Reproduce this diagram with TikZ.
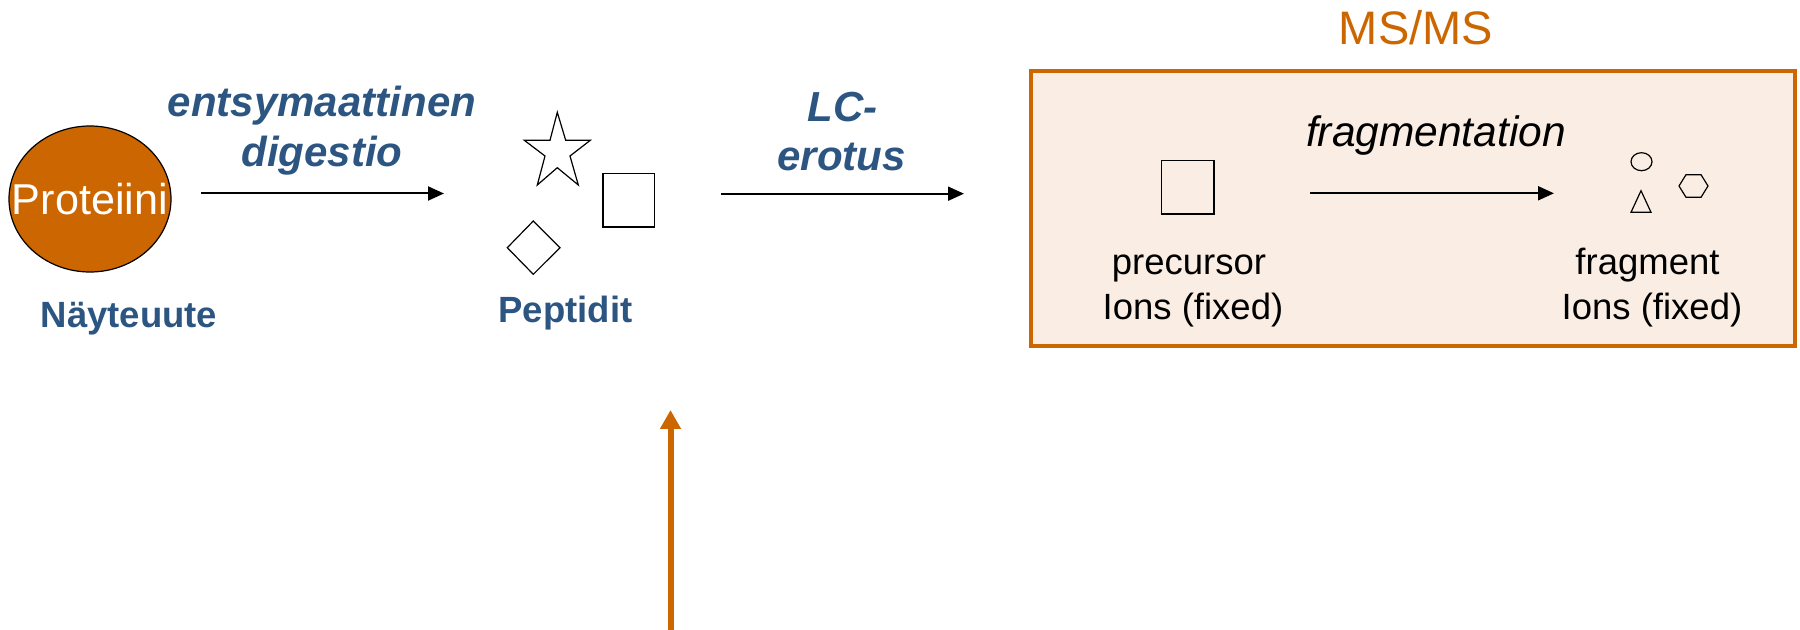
\documentclass[tikz,border=0pt]{standalone}
\usepackage{fontspec}
\setmainfont{Liberation Sans}
\usetikzlibrary{arrows.meta,shapes.geometric}
\definecolor{rust}{HTML}{CC6600}
\definecolor{peach}{HTML}{FAEEE4}
\definecolor{navy}{HTML}{2C5582}
\begin{document}
\begin{tikzpicture}[x=0.5pt,y=-0.5pt,
  blab/.style={text=navy, font=\fontsize{21}{25}\selectfont\bfseries\itshape, anchor=base, inner sep=0pt},
  slab/.style={text=navy, font=\fontsize{18.25}{22}\selectfont\bfseries, anchor=base, inner sep=0pt},
  blk/.style={text=black, font=\fontsize{18.25}{22}\selectfont, anchor=base, inner sep=0pt},
  arr/.style={line width=1pt, -{Triangle[length=8pt,width=7pt]}},
  outl/.style={line width=0.6pt, draw=black}]
\useasboundingbox (0,0) rectangle (1800,630);

% sample protein
\node[ellipse, draw=black, line width=0.6pt, fill=rust, minimum width=81pt, minimum height=73pt,
      inner sep=0pt] (prot) at (90,199) {};
\node[text=white, font=\fontsize{21.6}{26}\selectfont, inner sep=0pt] (protlbl) at (prot.center) {Proteiini};
\node[slab] (nayte) at (129,328) {Näyteuute};

% digestion arrow
\node[blab] (dig1) at (322,117) {entsymaattinen};
\node[blab] (dig2) at (322,167) {digestio};
\coordinate (a1s) at (201,193.5);
\coordinate (a1e) at (444,193.5);
\draw[arr] (a1s) -- (a1e);

% peptides
\draw[outl] (557.3,112.3) -- (565.7,140.3) -- (590.3,140.3) -- (570,156) -- (578.3,185)
  -- (557.3,167.7) -- (537.3,185) -- (545,156) -- (524.3,140.3) -- (550,140.3) -- cycle;
\draw[outl] (603,173.7) rectangle (654.3,227);
\draw[outl] (507.3,247.7) -- (533.3,221) -- (560,247.7) -- (533.3,274.3) -- cycle;
\node[slab] (pep) at (565.5,323) {Peptidit};

% LC arrow
\node[blab] (lc1) at (842.5,121.7) {LC-};
\node[blab] (lc2) at (841.5,170.7) {erotus};
\coordinate (a2s) at (721,193.7);
\coordinate (a2e) at (964,193.7);
\draw[arr] (a2s) -- (a2e);

% MS/MS box
\node[draw=rust, fill=peach, line width=1.75pt, minimum width=382pt, minimum height=137.5pt,
      inner sep=0pt] (msbox) at (1413,208.5) {};
\node[text=rust, font=\fontsize{23.5}{28}\selectfont, anchor=base, inner sep=0pt] (mstitle) at (1416,45) {MS/MS};
\node[text=black, font=\fontsize{21.25}{25}\selectfont\itshape, anchor=base, inner sep=0pt] (frag) at (1436,147) {fragmentation};

\draw[outl] (1161.5,160.7) rectangle (1214,214);
\coordinate (a3s) at (1310,193.3);
\coordinate (a3e) at (1554,193.3);
\draw[arr] (a3s) -- (a3e);

\draw[outl] (1641.5,161.7) ellipse [x radius=5.25pt, y radius=4.5pt];
\draw[outl] (1641,190.7) -- (1631,212.3) -- (1651,212.3) -- cycle;
\draw[outl] (1679,186) -- (1686,174.7) -- (1701,174.7) -- (1708,186) -- (1701,197.3) -- (1686,197.3) -- cycle;

\node[blk] (prec1) at (1189,275) {precursor};
\node[blk] (prec2) at (1193,320) {Ions (fixed)};
\node[blk] (fr1) at (1647.5,275) {fragment};
\node[blk] (fr2) at (1652,320) {Ions (fixed)};

% orange arrow
\coordinate (oa1) at (670.5,630);
\coordinate (oa2) at (670.5,410);
\draw[rust, line width=3pt, -{Triangle[length=9.5pt,width=10pt]}] (oa1) -- (oa2);
\end{tikzpicture}
\end{document}
